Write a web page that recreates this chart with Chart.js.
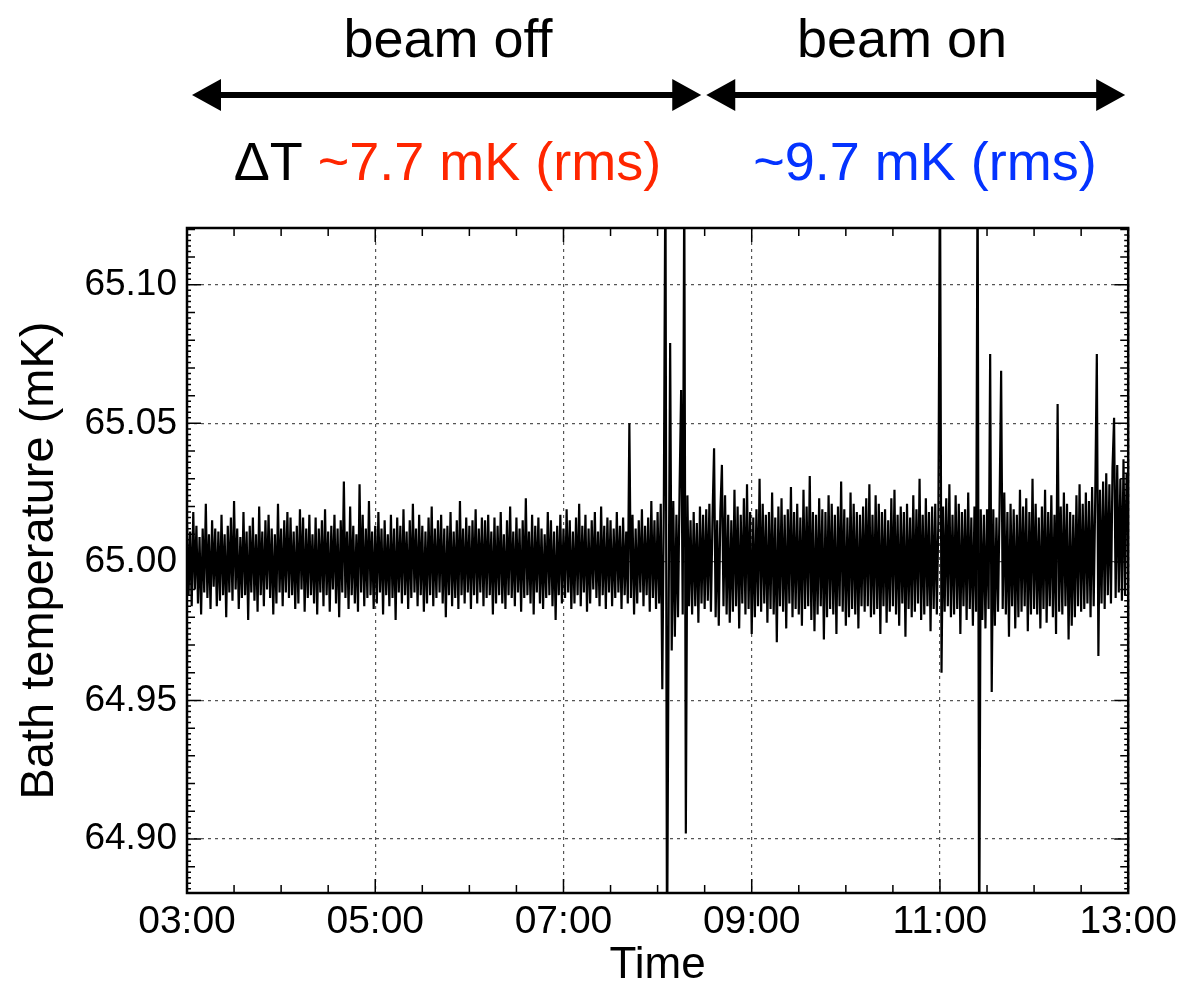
<!DOCTYPE html>
<html>
<head>
<meta charset="utf-8">
<title>Bath temperature</title>
<script src="https://cdn.jsdelivr.net/npm/chart.js@4.4.1/dist/chart.umd.min.js"></script>
<style>
  html, body { margin: 0; padding: 0; background: #fff; }
  canvas { display: block; }
</style>
</head>
<body>
<canvas id="bathChart" width="1183" height="988"></canvas>
<script>
// One sample per minute from 03:00 to 13:00 (hours of the day)
const startHour = 3;
const stepHours = 1 / 60;

// Bath temperature, as offset from 65.000 mK in uK,
// one row per half hour (spikes past the frame are given as +-150)
const bathOffset = [
  14,-12,11,-16,18,-10,13,-15,9,-19,12,-11,21,-13,10,-17,15,-9,12,-16,11,-14,17,-12,10,-20,13,-11,16,-14,
  22,-10,12,-17,9,-13,18,-12,11,-21,13,-11,16,-14,10,-18,20,-12,11,-16,15,-10,17,-13,12,-19,10,-15,21,-11,
  12,-16,15,-11,18,-13,16,-12,11,-17,13,-15,19,-10,16,-18,12,-13,17,-12,10,-15,16,-19,12,-11,15,-16,19,-12,
  11,-18,13,-10,17,-15,12,-20,15,-11,29,-13,11,-17,20,-12,13,-15,10,-18,28,-11,17,-16,12,-13,22,-12,11,-17,
  13,-15,18,-11,12,-19,15,-12,10,-16,17,-13,12,-21,16,-11,13,-15,19,-12,11,-17,15,-13,21,-11,12,-16,17,-12,
  13,-18,11,-15,16,-12,20,-16,12,-13,15,-11,17,-15,12,-20,13,-12,18,-16,11,-13,15,-17,22,-12,12,-15,16,-11,
  13,-17,15,-12,19,-15,12,-11,16,-16,15,-13,17,-12,11,-19,16,-15,13,-12,18,-15,10,-17,15,-12,20,-13,11,-16,
  16,-11,12,-18,15,-13,23,-12,11,-15,17,-19,13,-11,16,-15,12,-17,10,-13,18,-12,15,-16,11,-21,13,-12,17,-15,
  12,-13,19,-11,15,-17,11,-15,16,-12,21,-16,13,-11,17,-18,12,-15,15,-10,18,-13,11,-16,20,-12,13,-17,16,-11,
  15,-16,12,-13,18,-11,13,-17,16,-12,11,-15,50,-13,17,-19,12,-15,15,-11,19,-16,13,-12,16,-18,22,-13,15,-17,
  18,-15,21,-46,24,150,-150,-22,79,-32,22,-27,17,-20,26,62,-19,140,-98,24,-16,15,-19,18,-16,14,-22,20,-15,17,
  -17,19,-14,21,-18,16,41,-20,15,-23,18,35,-16,24,-19,17,-22,15,-18,26,-16,20,-24,17,-15,23,-19,28,-17,18,
  -26,16,-20,19,-16,30,-18,21,-15,17,-22,18,-17,25,-19,16,-29,20,-16,23,-18,17,-24,19,-15,27,-20,18,-17,21,
  -19,16,-23,26,-17,20,-16,31,-21,18,-25,17,-19,23,-16,19,-28,18,-20,24,-17,21,-19,17,-26,20,-16,29,-18,19,
  -23,16,-20,25,-17,21,-19,18,-24,17,-16,20,-18,23,-16,28,-20,17,-19,24,-17,21,-26,18,-16,19,-22,15,-18,23,
  -16,26,-19,17,-23,20,-15,18,-27,21,-17,16,-20,24,-18,19,-15,30,-21,17,-19,23,-16,18,-25,20,-17,21,-19,16,
  150,-40,20,-18,23,-16,28,-20,17,-19,24,-17,21,-26,18,-16,19,-21,25,-17,16,-23,20,-18,150,-150,19,-21,17,-24,
  19,-17,75,-47,19,-23,16,-18,20,69,-17,25,-19,18,-27,21,-16,19,-24,17,-20,26,-18,20,-16,23,-25,18,-19,30,
  -17,21,-19,16,-24,20,-17,26,-22,18,-16,24,-20,17,-26,57,-18,20,-19,25,-16,21,-28,18,-23,17,-20,24,-16,28,
  -18,21,-17,25,-15,22,-20,27,-16,24,75,-34,26,-15,29,-17,32,-12,28,-15,34,52,-13,35,-11,30,-14,37,-12,32,
  16
];
const baseTemp = 65.0;

// Axes
const xRange = [3, 13];
const xTicks = [3, 5, 7, 9, 11, 13];
const xTickLabels = ['03:00', '05:00', '07:00', '09:00', '11:00', '13:00'];
const yRange = [64.8805, 65.1205];
const yTicks = [64.90, 64.95, 65.00, 65.05, 65.10];
const yTickLabels = ['64.90', '64.95', '65.00', '65.05', '65.10'];

const beamSwitchHour = 8.49;

const FONT = "'Liberation Sans', Arial, Helvetica, sans-serif";
Chart.defaults.font.family = FONT;
Chart.defaults.color = '#000';

const points = bathOffset.map((d, i) => ({
    x: startHour + i * stepHours,
    y: baseTemp + d / 1000
}));

// frame with inward ticks on all four sides
const framePlugin = {
    id: 'frame',
    afterDatasetsDraw(chart) {
        const { ctx, chartArea: a, scales: { x, y } } = chart;
        ctx.save();
        ctx.strokeStyle = '#000';
        ctx.lineWidth = 1.5;
        ctx.beginPath();
        for (let m = 0; m <= 20; m++) {
            const px = x.getPixelForValue(3 + m * 0.5);
            const len = (m % 4 === 0) ? 14 : 8;
            ctx.moveTo(px, a.bottom); ctx.lineTo(px, a.bottom - len);
            ctx.moveTo(px, a.top); ctx.lineTo(px, a.top + len);
        }
        for (let k = 64882; k <= 65120; k += 2) {
            const py = y.getPixelForValue(k / 1000);
            const len = (k % 50 === 0) ? 14 : (k % 10 === 0 ? 8 : 4);
            ctx.moveTo(a.left, py); ctx.lineTo(a.left + len, py);
            ctx.moveTo(a.right, py); ctx.lineTo(a.right - len, py);
        }
        ctx.stroke();
        ctx.lineWidth = 2.5;
        ctx.strokeRect(a.left, a.top, a.right - a.left, a.bottom - a.top);
        ctx.restore();
    }
};

function drawArrow(ctx, x1, x2, y) {
    const head = 29, half = 16;
    ctx.lineWidth = 6;
    ctx.beginPath();
    ctx.moveTo(x1 + head - 2, y);
    ctx.lineTo(x2 - head + 2, y);
    ctx.stroke();
    ctx.beginPath();
    ctx.moveTo(x1, y); ctx.lineTo(x1 + head, y - half); ctx.lineTo(x1 + head, y + half);
    ctx.closePath(); ctx.fill();
    ctx.beginPath();
    ctx.moveTo(x2, y); ctx.lineTo(x2 - head, y - half); ctx.lineTo(x2 - head, y + half);
    ctx.closePath(); ctx.fill();
}

function drawParts(ctx, parts, cx, baseline) {
    const total = parts.reduce((s, p) => s + ctx.measureText(p[0]).width, 0);
    let px = cx - total / 2;
    parts.forEach(([text, color]) => {
        ctx.fillStyle = color;
        ctx.fillText(text, px, baseline);
        px += ctx.measureText(text).width;
    });
}

// beam off / beam on labels above the plot
const beamPlugin = {
    id: 'beam',
    afterDraw(chart) {
        const { ctx, chartArea: a, scales: { x } } = chart;
        const sw = x.getPixelForValue(beamSwitchHour);
        ctx.save();
        ctx.fillStyle = '#000';
        ctx.strokeStyle = '#000';
        drawArrow(ctx, a.left + 5, sw - 2.5, 95);
        drawArrow(ctx, sw + 2.5, a.right - 3, 95);

        ctx.font = '54px ' + FONT;
        ctx.textBaseline = 'alphabetic';
        ctx.textAlign = 'center';
        ctx.fillStyle = '#000';
        ctx.fillText('beam off', 448, 57);
        ctx.fillText('beam on', 902, 57);

        ctx.textAlign = 'left';
        drawParts(ctx, [['\u0394T ', '#000'], ['~7.7 mK (rms)', '#ff2600']], 447.5, 180);
        drawParts(ctx, [['~9.7 mK (rms)', '#0433ff']], 925, 180);
        ctx.restore();
    }
};

const canvas = document.getElementById('bathChart');
new Chart(canvas.getContext('2d'), {
    type: 'line',
    data: {
        datasets: [{
            data: points,
            borderColor: '#000',
            borderWidth: 2.2,
            pointRadius: 0,
            tension: 0
        }]
    },
    options: {
        responsive: false,
        animation: false,
        layout: { padding: { top: 228, right: 51, left: 0, bottom: 0 } },
        plugins: {
            legend: { display: false },
            tooltip: { enabled: false }
        },
        scales: {
            x: {
                type: 'linear',
                min: xRange[0],
                max: xRange[1],
                afterBuildTicks: s => { s.ticks = xTicks.map(v => ({ value: v })); },
                afterFit: s => { s.height = 95; },
                grid: { color: '#555', lineWidth: 1.2, drawTicks: false },
                border: { display: false, dash: [3, 4] },
                ticks: {
                    padding: 6,
                    maxRotation: 0,
                    font: { size: 39 },
                    callback: (v, i) => xTickLabels[i]
                },
                title: {
                    display: true,
                    text: 'Time',
                    font: { size: 44, lineHeight: 0.95 },
                    padding: { top: 0, bottom: 1 }
                }
            },
            y: {
                min: yRange[0],
                max: yRange[1],
                afterBuildTicks: s => { s.ticks = yTicks.map(v => ({ value: v })); },
                afterFit: s => { s.width = 187; },
                grid: { color: '#555', lineWidth: 1.2, drawTicks: false },
                border: { display: false, dash: [3, 4] },
                ticks: {
                    padding: 10,
                    font: { size: 37 },
                    callback: (v, i) => yTickLabels[i]
                },
                title: {
                    display: true,
                    text: 'Bath temperature (mK)',
                    font: { size: 47 },
                    padding: { top: 12, bottom: 0 }
                }
            }
        }
    },
    plugins: [framePlugin, beamPlugin]
});
</script>
</body>
</html>
